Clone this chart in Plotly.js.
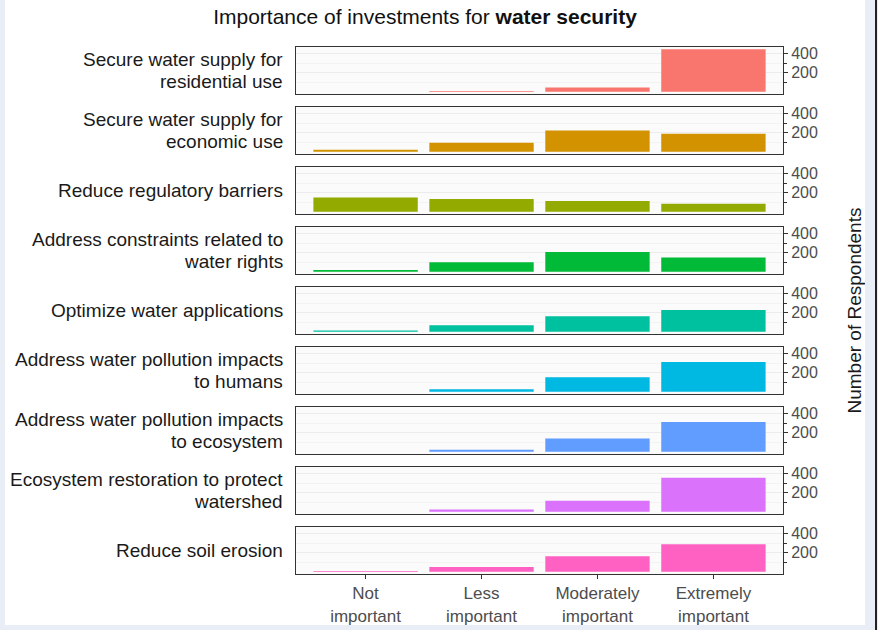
<!DOCTYPE html>
<html><head><meta charset="utf-8">
<script src="https://cdn.plot.ly/plotly-3.0.1.min.js"></script>
<style>
html,body{margin:0;padding:0;background:#e8edf6;width:878px;height:630px;overflow:hidden;}
#chart{position:absolute;left:5px;top:0;width:860px;height:625px;background:#fff;}
#edge{position:absolute;left:875px;top:0;width:2px;height:630px;background:#222;}
</style></head><body>
<div id="chart"></div><div id="edge"></div>
<script>
// ---- data ----
const categories = ["Not important", "Less important", "Moderately important", "Extremely important"];
const tickLabels = ["Not<br>important", "Less<br>important", "Moderately<br>important", "Extremely<br>important"];
const facetLines = [
  ["Secure water supply for", "residential use"],
  ["Secure water supply for", "economic use"],
  ["Reduce regulatory barriers"],
  ["Address constraints related to", "water rights"],
  ["Optimize water applications"],
  ["Address water pollution impacts", "to humans"],
  ["Address water pollution impacts", "to ecosystem"],
  ["Ecosystem restoration to protect", "watershed"],
  ["Reduce soil erosion"]
];
const residential     = [0, 8, 45, 450];
const economic        = [22, 95, 225, 190];
const regulatory      = [150, 135, 115, 85];
const waterRights     = [20, 100, 210, 150];
const optimize        = [15, 70, 165, 230];
const pollutionHumans = [0, 28, 155, 315];
const pollutionEco    = [0, 22, 142, 315];
const restoration     = [0, 25, 118, 358];
const soilErosion     = [8, 50, 165, 292];
const yTickVals = [200, 400];
const yMinorVals = [100, 300];
const titleText = "Importance of investments for <b>water security</b>";
const yTitle = "Number of Respondents";

// ---- styles ----
const series = [residential, economic, regulatory, waterRights, optimize, pollutionHumans, pollutionEco, restoration, soilErosion];
const colors = ["#F8766D", "#D39200", "#93AA00", "#00BA38", "#00C19F", "#00B9E3", "#619CFF", "#DB72FB", "#FF61C3"];
const W = 860, H = 625;
const pL = 291, pR = 778, top0 = 47, pH = 47, step = 60;
const font = "Liberation Sans, Arial, sans-serif";
const M = Math.max(...series.flat());
const yRange = [-0.05 * M, 1.05 * M];

const traces = [];
const layout = {
  width: W, height: H,
  margin: {l: 0, r: 0, t: 0, b: 0},
  paper_bgcolor: "#ffffff", plot_bgcolor: "#fbfbfb",
  font: {family: font, color: "#1a1a1a"},
  showlegend: false,
  bargap: 0.1,
  title: {text: titleText, xref: "container", yref: "container", x: 420 / W, xanchor: "center",
          y: 1 - 17 / H, yanchor: "middle", font: {size: 21, color: "#111", family: font}},
  annotations: [],
  dragmode: false
};

series.forEach((vals, i) => {
  const k = i === 0 ? "" : String(i + 1);
  traces.push({
    type: "bar", x: categories, y: vals, xaxis: "x" + k, yaxis: "y" + k,
    marker: {color: colors[i]}, width: 0.9, hoverinfo: "x+y"
  });
  const t = top0 + step * i, b = t + pH;
  const last = i === series.length - 1;
  layout["xaxis" + k] = {
    domain: [pL / W, pR / W], anchor: "y" + k, type: "category", range: [-0.6, 3.6],
    showline: true, mirror: true, linecolor: "#333", linewidth: 1,
    showgrid: false, zeroline: false,
    ticks: last ? "outside" : "", ticklen: 4, tickcolor: "#333",
    showticklabels: last, tickmode: "array", tickvals: categories, ticktext: tickLabels,
    tickfont: {size: 17, color: "#4d4d4d"}, fixedrange: true
  };
  layout["yaxis" + k] = {
    domain: [1 - b / H, 1 - t / H], anchor: "x" + k, side: "right", range: yRange,
    tickmode: "array", tickvals: yTickVals, ticks: "outside", ticklen: 4, tickcolor: "#333",
    tickfont: {size: 16, color: "#4d4d4d"},
    showline: true, mirror: true, linecolor: "#333", linewidth: 1,
    showgrid: true, gridcolor: "#ececec", zeroline: false, fixedrange: true,
    minor: {tickmode: "array", tickvals: yMinorVals, ticks: "outside", ticklen: 3, tickcolor: "#333",
            showgrid: true, gridcolor: "#f3f3f3"}
  };
  const lines = facetLines[i];
  const cy = t + pH / 2;
  lines.forEach((ln, j) => {
    const off = lines.length === 1 ? 0 : (j === 0 ? -11.3 : 11.3);
    layout.annotations.push({
      text: ln, xref: "paper", yref: "paper", x: 280 / W, y: 1 - (cy + off) / H,
      xanchor: "right", yanchor: "middle", showarrow: false, align: "right",
      font: {size: 19, color: "#1a1a1a", family: font}
    });
  });
});

layout.annotations.push({
  text: yTitle, xref: "paper", yref: "paper", x: 849 / W, y: 1 - 310.5 / H,
  xanchor: "center", yanchor: "middle", textangle: -90, showarrow: false,
  font: {size: 19, color: "#1a1a1a", family: font}
});

Plotly.newPlot("chart", traces, layout, {displayModeBar: false, staticPlot: true});
</script>
</body></html>
